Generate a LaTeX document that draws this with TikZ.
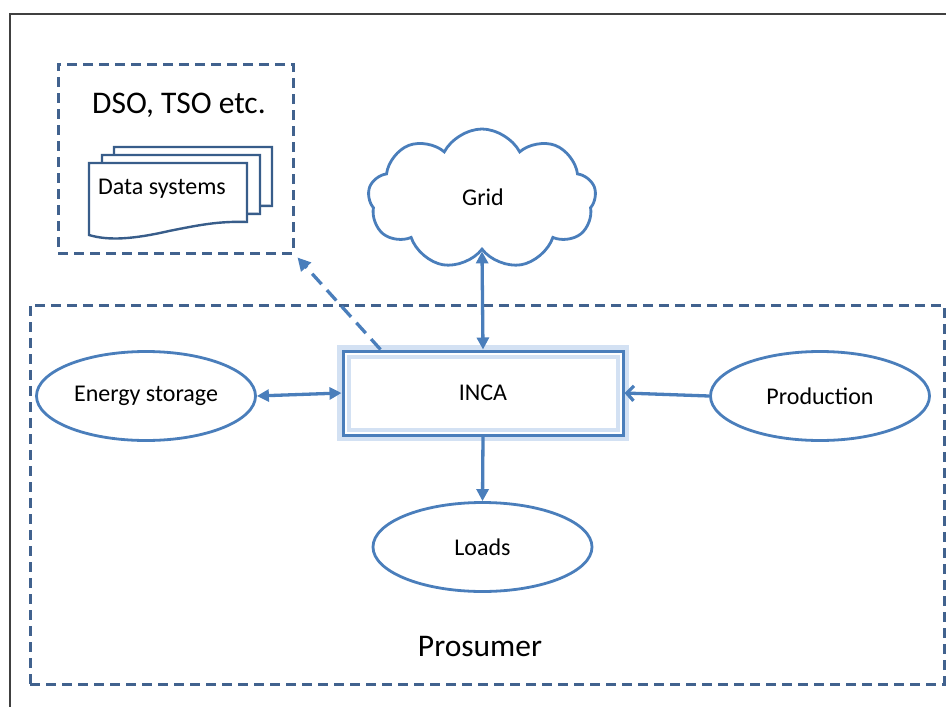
\documentclass[tikz,border=0pt]{standalone}
\usepackage{fontspec}
\setmainfont{Carlito}
\usetikzlibrary{shapes.geometric,shapes.symbols,arrows.meta}
\definecolor{ofblue}{HTML}{4A7EBB}
\definecolor{dkblue}{HTML}{41628E}
\definecolor{docblue}{HTML}{385D8A}
\definecolor{glowc}{HTML}{D3E1F3}
\definecolor{framec}{HTML}{404040}
\begin{document}
\begin{tikzpicture}[x=1pt,y=-1pt,
  txt/.style={font=\fontsize{24}{28}\selectfont, text=black},
  bigtxt/.style={font=\fontsize{31.5}{36}\selectfont, text=black},
  dbox/.style={draw=dkblue, line width=3pt, dash pattern=on 10pt off 6pt, rectangle, inner sep=0pt},
  ell/.style={ellipse, draw=ofblue, line width=2.8pt, fill=white, inner sep=0pt, minimum width=219pt, minimum height=89pt, txt},
  arr/.style={draw=ofblue, line width=3.3pt},
  docline/.style={draw=docblue, line width=2.4pt, fill=white},
  docpage/.pic={\path[docline] (0,0) -- (158,0) -- (158,59)
      .. controls (130,58) and (110,62) .. (80,68)
      .. controls (45,76) and (20,78) .. (0,72) -- cycle;}
]
\useasboundingbox (0,0) rectangle (946,707);
% outer frame
\draw[framec, line width=1.6pt] (10,707) -- (10,14) -- (946,14);

% prosumer box
\node[dbox, minimum width=914pt, minimum height=379pt] (pros) at (487,494.5) {};
\node[bigtxt] (prosl) at (480,647) {Prosumer};

% DSO box
\node[dbox, minimum width=235pt, minimum height=189pt] (dso) at (175.5,158.5) {};
\node[bigtxt] (dsol) at (179,105) {DSO, TSO etc.};

% data systems (multi document)
\pic at (114,147) {docpage};
\pic at (102,155) {docpage};
\pic at (89,163) {docpage};
\node[txt] (ds) at (162,189) {Data systems};

% grid cloud
\node[cloud, draw=ofblue, line width=2.8pt, cloud puffs=9, cloud puff arc=125, aspect=1.8,
      minimum width=228pt, minimum height=140pt, inner sep=0pt, fill=white, txt] (grid) at (482,199) {};
\node[txt] (gridl) at (483,197) {Grid};

% INCA
\draw[glowc, line width=12pt] (343,351) rectangle (623,435);
\node[draw=ofblue, line width=3pt, fill=white, minimum width=280pt, minimum height=84pt, inner sep=0pt, txt] (inca) at (483,393) {INCA};
\draw[glowc, line width=4pt] (348.5,356.5) rectangle (617.5,429.5);

% ellipses
\node[ell] (es) at (146,396) {Energy storage};
\node[ell] (prod) at (820,396) {Production};
\node[ell] (loads) at (482.5,547) {Loads};

% connectors
\draw[arr, {Triangle[length=12pt,width=12pt]}-{Triangle[length=12pt,width=12pt]}] (grid.south) -- (inca.north);
\draw[arr, {Triangle[length=12pt,width=12pt]}-{Triangle[length=12pt,width=12pt]}] (es.east) -- (inca.west);
\draw[arr, -{Straight Barb[length=7pt,width=15pt]}] (prod.west) -- (inca.east);
\draw[arr, -{Triangle[length=12pt,width=12pt]}] (inca.south) -- (loads.north);
\draw[arr, dash pattern=on 14pt off 8pt, -{Triangle[length=13pt,width=13pt]}] ([xshift=39pt]inca.north west) -- ([shift={(3pt,-3pt)}]dso.south east);
\end{tikzpicture}
\end{document}
